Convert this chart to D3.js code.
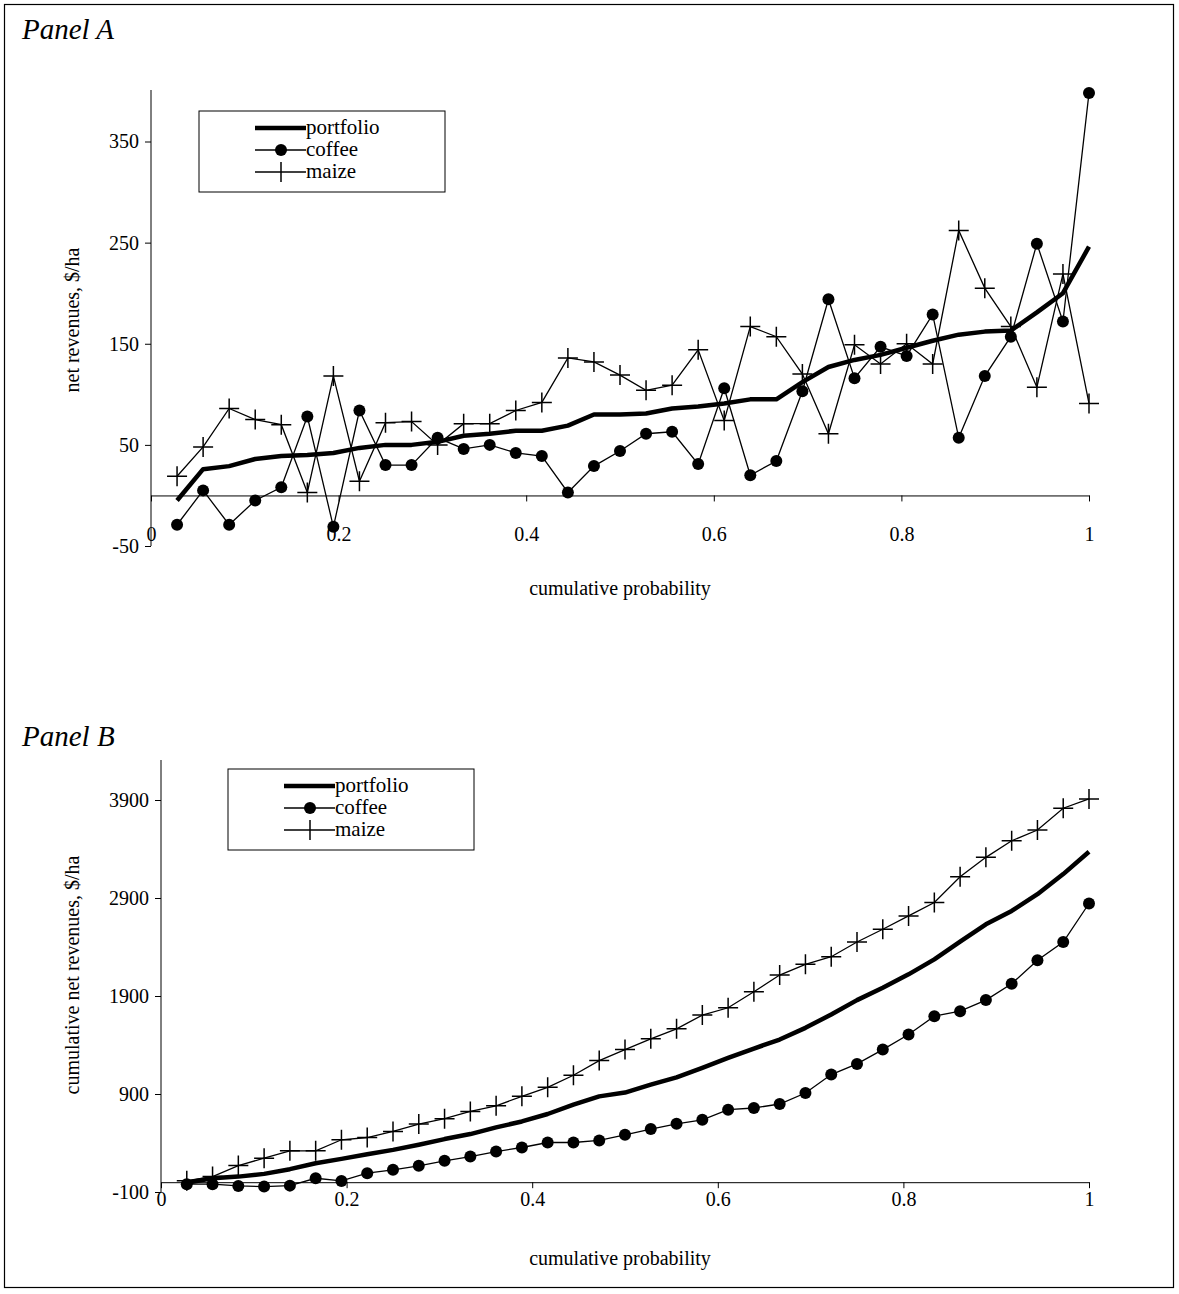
<!DOCTYPE html>
<html>
<head>
<meta charset="utf-8">
<script src="https://cdn.jsdelivr.net/npm/d3@7"></script>
<style>
  body { margin: 0; background: #fff; }
  svg text { font-family: "Liberation Serif", "Times New Roman", serif; fill: #000; }
</style>
</head>
<body>
<svg id="chart" width="1179" height="1294"></svg>
<script>
// Panel A: net revenues per draw, $/ha
const portfolioA = [-5, 26, 29, 36, 39, 40, 42, 47, 50, 50, 53, 59, 61, 64, 64, 69, 80, 80,
  81, 86, 88, 91, 95, 95, 112, 127, 134, 139, 146, 153, 159, 162, 163, 181, 200, 246];
const coffeeA = [-29, 5, -29, -5, 8, 78, -31, 84, 30, 30, 57, 46, 50, 42, 39, 3, 29, 44,
  61, 63, 31, 106, 20, 34, 103, 194, 116, 147, 138, 179, 57, 118, 157, 249, 172, 398];
const maizeA = [19, 48, 86, 75, 70, 3, 118, 14, 72, 73, 50, 71, 71, 84, 92, 136, 132, 119,
  104, 109, 144, 74, 167, 157, 120, 61, 149, 130, 150, 130, 262, 205, 167, 107, 219, 91];

// Panel B: cumulative net revenues, $/ha
const portfolioB = [-5, 40, 57, 85, 133, 194, 238, 286, 330, 382, 440, 491, 559, 620, 696, 791, 876, 915,
  995, 1070, 1166, 1268, 1364, 1456, 1575, 1711, 1858, 1985, 2121, 2274, 2455, 2632, 2768, 2939, 3144, 3372];
const coffeeB = [-20, -20, -38, -45, -35, 40, 13, 92, 126, 167, 218, 262, 313, 354, 405, 405, 426, 484,
  542, 596, 637, 740, 757, 798, 910, 1098, 1207, 1353, 1507, 1694, 1745, 1858, 2025, 2264, 2451, 2844];
const maizeB = [15, 57, 170, 245, 320, 320, 433, 456, 518, 593, 648, 722, 780, 876, 968, 1091, 1241, 1353,
  1463, 1565, 1705, 1780, 1944, 2114, 2223, 2301, 2451, 2581, 2717, 2854, 3116, 3315, 3484, 3594, 3816, 3911];

const xTicks = [0, 0.2, 0.4, 0.6, 0.8, 1];
const yTicksA = [-50, 50, 150, 250, 350];
const yTicksB = [-100, 900, 1900, 2900, 3900];
const probs = d3.range(1, 37).map(i => i / 36);

const svg = d3.select('#chart');
svg.append('rect').attr('x', 4.5).attr('y', 4.5).attr('width', 1169).attr('height', 1283)
  .attr('fill', 'none').attr('stroke', '#000').attr('stroke-width', 1.2);

function drawPanel(cfg) {
  const x = d3.scaleLinear().domain([0, 1]).range([cfg.x0, 1089]);
  const y = d3.scaleLinear().domain(cfg.yDomain).range(cfg.yRange);
  const g = svg.append('g');

  g.append('text').attr('x', 22).attr('y', cfg.titleY).style('font-size', '29px')
    .style('font-style', 'italic').text(cfg.title);

  // y axis
  const yAxis = g.append('g').attr('transform', `translate(${cfg.x0},0)`)
    .call(d3.axisLeft(y).tickValues(cfg.yTicks).tickSize(6).tickSizeOuter(0).tickFormat(d => String(d)));
  yAxis.select('.domain').attr('d', `M0,${cfg.yTop}V${y(cfg.yDomain[0])}`);
  yAxis.selectAll('text').style('font-size', '20px').attr('font-family', null).attr('x', -12);

  // x axis at zero
  const xAxis = g.append('g').attr('transform', `translate(0,${y(0)})`)
    .call(d3.axisBottom(x).tickValues(xTicks).tickSize(6).tickSizeOuter(0).tickFormat(d => d === 0 || d === 1 ? d : d.toFixed(1)));
  xAxis.selectAll('text').style('font-size', '20px').attr('font-family', null).attr('dy', null)
    .attr('y', cfg.xLabelDy);
  g.selectAll('.domain, .tick line').attr('stroke', '#000');

  g.append('text').attr('x', 620).attr('y', cfg.xTitleY).attr('text-anchor', 'middle')
    .style('font-size', '20px').text('cumulative probability');
  g.append('text').attr('transform', `translate(79,${cfg.yTitleMid}) rotate(-90)`)
    .attr('text-anchor', 'middle').style('font-size', '20px').text(cfg.yTitle);

  const line = d3.line().x((d, i) => x(probs[i])).y(d => y(d));
  g.append('path').datum(cfg.coffee).attr('d', line).attr('fill', 'none').attr('stroke', '#000').attr('stroke-width', 1.3);
  g.append('path').datum(cfg.maize).attr('d', line).attr('fill', 'none').attr('stroke', '#000').attr('stroke-width', 1.3);
  g.append('path').datum(cfg.portfolio).attr('d', line).attr('fill', 'none').attr('stroke', '#000').attr('stroke-width', 4.5)
    .attr('stroke-linejoin', 'round');

  g.selectAll('.dot').data(cfg.coffee).enter().append('circle')
    .attr('cx', (d, i) => x(probs[i])).attr('cy', d => y(d)).attr('r', 6).attr('fill', '#000');
  g.selectAll('.cross').data(cfg.maize).enter().append('path')
    .attr('d', (d, i) => `M${x(probs[i]) - 10},${y(d)}H${x(probs[i]) + 10}M${x(probs[i])},${y(d) - 10}V${y(d) + 10}`)
    .attr('stroke', '#000').attr('stroke-width', 1.5);

  // legend
  const lx = cfg.legend[0], ly = cfg.legend[1];
  g.append('rect').attr('x', lx).attr('y', ly).attr('width', 246).attr('height', 81)
    .attr('fill', '#fff').attr('stroke', '#000');
  const items = [['portfolio', 'thick'], ['coffee', 'dot'], ['maize', 'cross']];
  items.forEach(([name, kind], k) => {
    const yy = ly + 17 + k * 22;
    g.append('line').attr('x1', lx + 56).attr('x2', lx + 107).attr('y1', yy).attr('y2', yy)
      .attr('stroke', '#000').attr('stroke-width', kind === 'thick' ? 4.5 : 1.3);
    if (kind === 'dot') g.append('circle').attr('cx', lx + 82).attr('cy', yy).attr('r', 6);
    if (kind === 'cross') g.append('line').attr('x1', lx + 82).attr('x2', lx + 82)
      .attr('y1', yy - 10).attr('y2', yy + 10).attr('stroke', '#000').attr('stroke-width', 1.5);
    g.append('text').attr('x', lx + 107).attr('y', yy + 6).style('font-size', '21px').text(name);
  });
}

drawPanel({
  title: 'Panel A', titleY: 39, x0: 151, yDomain: [-50, 350], yRange: [546, 141.5], yTop: 90,
  yTicks: yTicksA, xLabelDy: 46, xTitleY: 595, yTitle: 'net revenues, $/ha', yTitleMid: 320,
  portfolio: portfolioA, coffee: coffeeA, maize: maizeA, legend: [199, 111]
});
drawPanel({
  title: 'Panel B', titleY: 746, x0: 161, yDomain: [-100, 3900], yRange: [1192, 800], yTop: 760,
  yTicks: yTicksB, xLabelDy: 24, xTitleY: 1265, yTitle: 'cumulative net revenues, $/ha', yTitleMid: 975,
  portfolio: portfolioB, coffee: coffeeB, maize: maizeB, legend: [228, 769]
});
</script>
</body>
</html>
